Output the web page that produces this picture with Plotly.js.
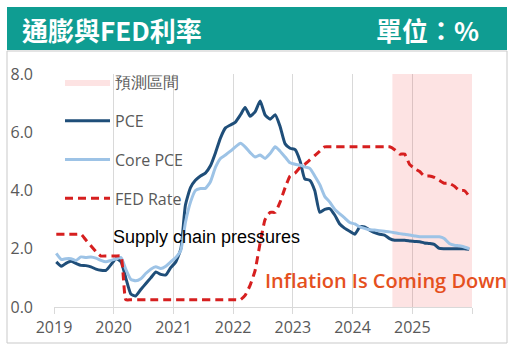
<!DOCTYPE html>
<html>
<head>
<meta charset="utf-8">
<script src="https://cdn.plot.ly/plotly-3.0.1.min.js"></script>
<style>
html,body{margin:0;padding:0;background:#fff;}
#chart{width:520px;height:360px;}
</style>
</head>
<body>
<div id="chart"></div>
<script>
// ---- data ----
const startYear = 2019;
const monthCount = 84; // Jan 2019 .. Dec 2025
const pce = [1.55,1.40,1.50,1.57,1.50,1.43,1.42,1.38,1.30,1.26,1.26,1.45,
             1.66,1.55,1.00,0.45,0.38,0.60,0.80,1.00,1.20,1.12,1.10,1.35,
             1.55,2.00,3.50,4.10,4.35,4.50,4.60,4.85,5.30,5.80,6.15,6.25,
             6.35,6.60,6.85,6.55,6.70,7.07,6.60,6.45,6.60,6.20,5.60,5.45,
             5.40,5.00,4.40,4.35,4.00,3.25,3.35,3.38,3.15,2.85,2.70,2.60,
             2.50,2.75,2.75,2.64,2.55,2.50,2.47,2.35,2.29,2.29,2.29,2.27,
             2.25,2.24,2.20,2.18,2.15,2.01,2.00,2.00,2.00,2.00,2.00,1.98];
const corePce = [1.84,1.63,1.66,1.66,1.60,1.72,1.70,1.72,1.68,1.60,1.55,1.60,
                 1.65,1.70,1.30,0.95,0.90,0.97,1.15,1.30,1.38,1.32,1.40,1.55,
                 1.70,1.95,2.90,3.60,4.00,4.07,4.07,4.30,4.80,5.10,5.22,5.35,
                 5.50,5.62,5.50,5.30,5.15,5.22,5.10,5.27,5.50,5.35,5.15,4.95,
                 4.90,4.87,4.81,4.76,4.50,4.20,3.80,3.60,3.35,3.20,3.05,2.90,
                 2.85,2.75,2.70,2.65,2.64,2.62,2.60,2.58,2.55,2.52,2.50,2.47,
                 2.44,2.41,2.41,2.41,2.41,2.41,2.35,2.18,2.12,2.10,2.06,2.00];
const fedRate = [2.50,2.50,2.50,2.50,2.50,2.50,2.30,2.10,1.90,1.75,1.75,1.75,
                 1.75,1.75,0.25,0.25,0.25,0.25,0.25,0.25,0.25,0.25,0.25,0.25,
                 0.25,0.25,0.25,0.25,0.25,0.25,0.25,0.25,0.25,0.25,0.25,0.25,
                 0.25,0.25,0.40,0.75,1.25,2.20,3.00,3.25,3.25,3.60,4.10,4.50,
                 4.60,4.80,4.90,5.05,5.20,5.35,5.50,5.50,5.50,5.50,5.50,5.50,
                 5.50,5.50,5.50,5.50,5.50,5.50,5.50,5.50,5.40,5.25,5.25,4.90,
                 4.75,4.65,4.50,4.50,4.45,4.35,4.25,4.25,4.15,4.00,4.00,3.80];
const forecastX = ['2024-09-01','2026-01-01','2026-01-01','2024-09-01','2024-09-01'];
const forecastY = [0, 0, 8, 8, 0];
const yearTicks = ['2019-01-01','2020-01-01','2021-01-01','2022-01-01','2023-01-01','2024-01-01','2025-01-01','2026-01-01'];
const yearLabels = ['2019','2020','2021','2022','2023','2024','2025',''];
const yTicks = [0,2,4,6,8];
const seriesNames = ['PCE','Core PCE','FED Rate'];
const forecastName = '預測區間';
const titleText = '通膨與FED利率';
const unitText = '單位：%';
const noteSupply = 'Supply chain pressures';
const noteInflation = 'Inflation Is Coming Down';

// month categories (15th of each month)
const months = [];
for (let i = 0; i < monthCount; i++) {
  const y = startYear + Math.floor(i / 12);
  const m = (i % 12) + 1;
  months.push(y + '-' + String(m).padStart(2, '0') + '-15');
}

// ---- layout geometry helpers ----
const W = 520, H = 360, ML = 54, MR = 48, MT = 74, MB = 53;
const PW = W - ML - MR, PH = H - MT - MB;
const px = v => (v - ML) / PW;
const py = v => (H - MB - v) / PH;

const gray = '#595959';
const numFont = 'Open Sans, Noto Sans, sans-serif';

const traces = [
  {x: forecastX, y: forecastY, name: forecastName, type: 'scatter', mode: 'lines',
   fill: 'toself', fillcolor: 'rgba(242,68,68,0.15)', line: {width: 0, color: 'rgba(0,0,0,0)'},
   legendgroup: 'g0', legendrank: 1, hoverinfo: 'skip'},
  {x: months, y: pce, name: seriesNames[0], type: 'scatter', mode: 'lines',
   line: {color: '#1F4E79', width: 3, shape: 'spline', smoothing: 0.5},
   legendgroup: 'g1', legendrank: 2, hoverinfo: 'skip'},
  {x: months, y: corePce, name: seriesNames[1], type: 'scatter', mode: 'lines',
   line: {color: '#9DC3E6', width: 3, shape: 'spline', smoothing: 0.5},
   legendgroup: 'g2', legendrank: 3, hoverinfo: 'skip'},
  {x: months, y: fedRate, name: seriesNames[2], type: 'scatter', mode: 'lines',
   line: {color: '#D61F1F', width: 3, dash: '8px,5px', shape: 'spline', smoothing: 0.4},
   legendgroup: 'g3', legendrank: 4, hoverinfo: 'skip'}
];

const layout = {
  width: W, height: H,
  margin: {l: ML, r: MR, t: MT, b: MB, pad: 0},
  paper_bgcolor: '#ffffff',
  plot_bgcolor: 'rgba(0,0,0,0)',
  showlegend: true,
  legend: {
    x: px(60), y: py(65), xanchor: 'left', yanchor: 'top',
    bgcolor: 'rgba(0,0,0,0)',
    font: {family: numFont, size: 16, color: gray},
    tracegroupgap: 15, itemwidth: 45, traceorder: 'grouped'
  },
  xaxis: {
    type: 'date',
    range: ['2019-01-01', '2026-01-01'],
    tickmode: 'array', tickvals: yearTicks, ticktext: yearLabels,
    showgrid: true, gridcolor: '#D9D9D9', gridwidth: 1,
    showline: true, linecolor: '#D9D9D9', linewidth: 1,
    ticks: 'outside', ticklen: 6, tickcolor: '#D9D9D9',
    tickfont: {family: numFont, size: 16, color: gray},
    zeroline: false, fixedrange: true
  },
  yaxis: {
    range: [0, 8],
    tickmode: 'array', tickvals: yTicks, tickformat: '.1f',
    showgrid: false, zeroline: false, showline: false,
    ticks: '', ticklabelstandoff: 20,
    tickfont: {family: numFont, size: 16, color: gray},
    fixedrange: true
  },
  shapes: [
    {type: 'rect', xref: 'paper', yref: 'paper', x0: px(7), x1: px(507), y0: py(343), y1: py(51),
     line: {color: '#C9C9C9', width: 1}, fillcolor: '#ffffff', layer: 'below'},
    {type: 'rect', xref: 'paper', yref: 'paper', x0: px(7), x1: px(507), y0: py(50), y1: py(7),
     line: {width: 0}, fillcolor: '#0F9D92', layer: 'below'}
  ],
  annotations: [
    {xref: 'paper', yref: 'paper', x: px(20), y: py(29), xanchor: 'left', yanchor: 'middle',
     text: '<b>' + titleText + '</b>', showarrow: false,
     font: {family: 'Noto Sans CJK TC, sans-serif', size: 26, color: '#ffffff'}},
    {xref: 'paper', yref: 'paper', x: px(481), y: py(29), xanchor: 'right', yanchor: 'middle',
     text: '<b>' + unitText + '</b>', showarrow: false,
     font: {family: 'Noto Sans CJK TC, sans-serif', size: 26, color: '#ffffff'}},
    {xref: 'paper', yref: 'paper', x: px(111), y: py(237), xanchor: 'left', yanchor: 'middle',
     text: noteSupply, showarrow: false,
     font: {family: 'Liberation Sans, Arial, sans-serif', size: 18, color: '#000000'}},
    {xref: 'paper', yref: 'paper', x: px(263), y: py(280), xanchor: 'left', yanchor: 'middle',
     text: noteInflation, showarrow: false,
     font: {family: 'Open Sans, sans-serif', size: 20, weight: 600, color: '#E5501E'}}
  ]
};

Plotly.newPlot('chart', traces, layout, {displayModeBar: false, staticPlot: true});
</script>
</body>
</html>
